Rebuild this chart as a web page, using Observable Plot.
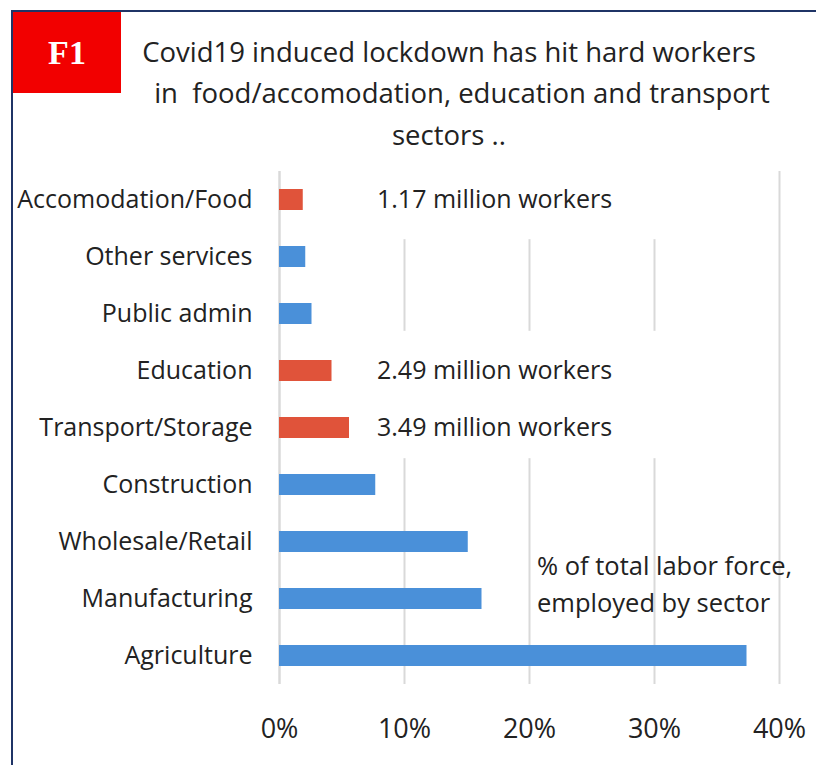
<!DOCTYPE html>
<html>
<head>
<meta charset="utf-8">
<script src="https://cdn.jsdelivr.net/npm/d3@7"></script>
<script src="https://cdn.jsdelivr.net/npm/@observablehq/plot@0.6"></script>
<style>
  body { margin: 0; background: #fff; }
  #wrap { position: relative; width: 816px; height: 765px; overflow: hidden; background: #fff; }
  #frame { position: absolute; left: 11px; top: 10px; width: 1000px; height: 1000px;
           border-left: 2px solid #1f3466; border-top: 2px solid #1f3466; pointer-events: none; z-index: 3; }
  #badge { position: absolute; left: 13px; top: 12px; width: 108px; height: 81px; background: #f20000;
           color: #fff; font: bold 34px "Liberation Serif", "DejaVu Serif", serif; z-index: 4;
           display: flex; align-items: center; justify-content: center; }
  #head, #chart { display: block; line-height: 0; }
  #head svg, #chart svg { display: block; }
</style>
</head>
<body>
<div id="wrap">
  <div id="frame"></div>
  <div id="badge">F1</div>
  <div id="head"></div>
  <div id="chart"></div>
</div>
<script>
// ---- data ----
const titleLines = ["Covid19 induced lockdown has hit hard workers", "in  food/accomodation, education and transport", "sectors .."];
const sectors = ["Accomodation/Food", "Other services", "Public admin", "Education", "Transport/Storage",
                 "Construction", "Wholesale/Retail", "Manufacturing", "Agriculture"];
const shares = [1.9, 2.1, 2.6, 4.2, 5.6, 7.7, 15.1, 16.2, 37.4];
const hardHit = ["Accomodation/Food", "Education", "Transport/Storage"];
const noteSectors = ["Accomodation/Food", "Education", "Transport/Storage"];
const noteLabels = ["1.17 million workers", "2.49 million workers", "3.49 million workers"];
const xTicks = [0, 10, 20, 30, 40];
const sideNote = "% of total labor force,\nemployed by sector";

const FONT = "'Open Sans', sans-serif";
const TEXT = "#222";
const RED = "#e0533a";
const BLUE = "#4a90d9";
const GRID = "#d9d9d9";

const data = sectors.map((s, i) => ({sector: s, share: shares[i], hard: hardHit.includes(s)}));
const notes = noteSectors.map((s, i) => ({sector: s, label: noteLabels[i]}));

// ---- header (title) ----
const head = d3.select("#head").append("svg").attr("width", 816).attr("height", 160);
const titlePos = [[449, 62], [462, 103], [449, 145]];
head.selectAll("text").data(titleLines).join("text")
  .attr("x", (d, i) => titlePos[i][0]).attr("y", (d, i) => titlePos[i][1])
  .attr("text-anchor", "middle").attr("fill", TEXT)
  .style("font-family", FONT).style("font-size", "27.5px").style("white-space", "pre")
  .attr("xml:space", "preserve")
  .text(d => d);

// ---- chart ----
const chart = Plot.plot({
  width: 816, height: 605,
  marginLeft: 279, marginRight: 37, marginTop: 11, marginBottom: 81,
  style: {fontFamily: FONT, color: TEXT, background: "transparent"},
  x: {domain: [0, 40], label: null},
  y: {domain: sectors, paddingInner: 0.64, paddingOuter: 0.32, label: null},
  marks: [
    Plot.gridX(xTicks, {stroke: GRID, strokeOpacity: 1, strokeWidth: 2}),
    // white label boxes behind the worker notes (they mask the gridlines)
    Plot.barX(notes.slice(0, 1), {x1: 7, x2: 34, y: "sector", fill: "white", insetTop: -20, insetBottom: -29.2}),
    Plot.barX(notes.slice(1), {x1: 7, x2: 34, y: "sector", fill: "white", insetTop: -29.2, insetBottom: -20.2}),
    Plot.ruleX([0], {stroke: GRID, strokeWidth: 2}),
    Plot.barX(data, {x: "share", y: "sector", fill: d => d.hard ? RED : BLUE}),
    Plot.text(notes, {x: 7.8, y: "sector", text: "label", textAnchor: "start", fill: TEXT, fontSize: 25}),
    Plot.text([sideNote], {x: 20.6, y: () => "Manufacturing", text: d => d, textAnchor: "start",
                           fill: TEXT, fontSize: 25.5, lineHeight: 1.45, dy: -17}),
    Plot.axisX(xTicks, {tickSize: 0, tickPadding: 34, tickFormat: d => d + "%", fontSize: 27, fill: TEXT, label: null}),
    Plot.axisY({tickSize: 0, tickPadding: 27, fontSize: 25, fill: TEXT, label: null})
  ]
});
document.getElementById("chart").appendChild(chart);
</script>
</body>
</html>
